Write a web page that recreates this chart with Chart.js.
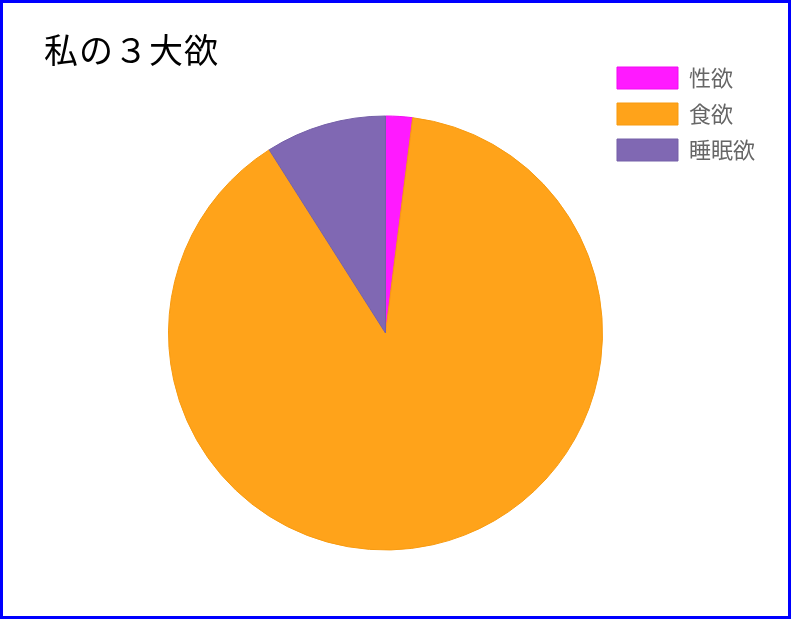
<!DOCTYPE html>
<html lang="ja">

<head>
  <meta charset="UTF-8" />
  <title>私の３大欲</title>
  <script src="https://cdn.jsdelivr.net/npm/chart.js"></script>
  <style>
    body {
      margin: 0;
      background: #fff;
      font-family: "Noto Sans CJK JP", sans-serif;
    }

    .quadro {
      position: relative;
      width: 791px;
      height: 619px;
      box-sizing: border-box;
      border: 3px solid #0000ff;
    }

    .titulo {
      position: absolute;
      left: 41px;
      top: 29px;
      font-size: 34px;
      line-height: 34px;
      letter-spacing: 1px;
      color: #000;
      white-space: nowrap;
    }

    .quadro canvas {
      position: absolute;
      left: 0;
      top: 0;
    }
  </style>
</head>

<body>
  <div class="quadro">
    <canvas id="grafico"></canvas>
    <div class="titulo" id="titulo">私の３大欲</div>
  </div>

  <script>
    // dados da pizza
    const categorias = ['性欲', '食欲', '睡眠欲'];
    const valores = [2, 89, 9];
    const cores = ['#ff1aff', '#ffa31a', '#8068b3'];
    const bordas = ['#f20af2', '#f79a10', '#7560a8'];

    new Chart(document.getElementById('grafico'), {
      type: 'pie',
      data: {
        labels: categorias,
        datasets: [{
          data: valores,
          backgroundColor: cores,
          borderColor: bordas,
          borderWidth: 1
        }]
      },
      options: {
        responsive: true,
        maintainAspectRatio: false,
        animation: false,
        layout: {
          padding: { left: 165, top: 50, right: 23, bottom: 3 }
        },
        plugins: {
          tooltip: { enabled: false },
          legend: {
            position: 'right',
            align: 'start',
            labels: {
              boxWidth: 61,
              boxHeight: 22,
              padding: 14,
              color: '#666',
              font: { size: 22, family: '"Noto Sans CJK JP", sans-serif' }
            }
          }
        }
      }
    });
  </script>
</body>

</html>
